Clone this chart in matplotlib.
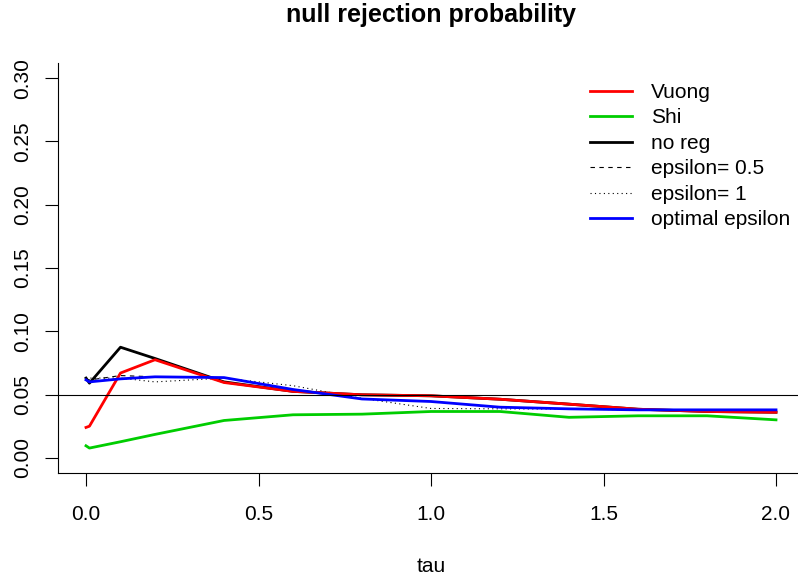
import matplotlib
matplotlib.use("Agg")
import matplotlib.pyplot as plt

plt.rcParams['font.family'] = ['Liberation Sans', 'DejaVu Sans']

tau = [0.0, 0.01, 0.1, 0.2, 0.4, 0.6, 0.8, 1.0, 1.2, 1.4, 1.6, 1.8, 2.0]
vuong = [0.024, 0.025, 0.067, 0.0775, 0.0595, 0.0525, 0.0498, 0.049, 0.0463, 0.0424, 0.0384, 0.0366, 0.036]
shi = [0.0095, 0.0077, 0.0127, 0.0185, 0.0295, 0.034, 0.0345, 0.0366, 0.0366, 0.032, 0.0332, 0.0332, 0.030]
noreg = [0.063, 0.059, 0.0874, 0.0785, 0.0600, 0.0525, 0.0498, 0.049, 0.0463, 0.0424, 0.0384, 0.0366, 0.036]
eps05 = [0.0625, 0.0615, 0.065, 0.064, 0.0634, 0.054, 0.0465, 0.0445, 0.040, 0.0387, 0.0379, 0.0379, 0.0379]
eps1 = [0.0634, 0.063, 0.063, 0.060, 0.063, 0.057, 0.047, 0.039, 0.0387, 0.0385, 0.0379, 0.0379, 0.0379]
optimal = [0.0616, 0.060, 0.0624, 0.064, 0.0634, 0.054, 0.0465, 0.0445, 0.040, 0.0387, 0.0379, 0.0379, 0.0379]

xticks = [0.0, 0.5, 1.0, 1.5, 2.0]
xticklabels = ["0.0", "0.5", "1.0", "1.5", "2.0"]
yticks = [0.00, 0.05, 0.10, 0.15, 0.20, 0.25, 0.30]
yticklabels = ["0.00", "0.05", "0.10", "0.15", "0.20", "0.25", "0.30"]
alpha_level = 0.05

FS = 15
W, H = 798, 579
fig = plt.figure(figsize=(W / 100, H / 100), dpi=100)
ax = fig.add_axes([58.4 / W, (H - 473) / H, 745.2 / W, 410 / H])
ax.set_xlim(-0.08, 2.08)
ax.set_ylim(-0.012, 0.312)

l_noreg, = ax.plot(tau, noreg, color='black', lw=2, label='no reg')
l_e05, = ax.plot(tau, eps05, color='black', lw=0.8, ls=(0, (4, 4)), label='epsilon= 0.5')
l_e1, = ax.plot(tau, eps1, color='black', lw=0.8, ls=(0, (1, 3)), label='epsilon= 1')
l_v, = ax.plot(tau, vuong, color='#ff0000', lw=2, label='Vuong')
l_s, = ax.plot(tau, shi, color='#00cd00', lw=2, label='Shi')
l_o, = ax.plot(tau, optimal, color='#0000ff', lw=2, label='optimal epsilon')
ax.axhline(alpha_level, color='black', lw=0.8)

for s in ['top', 'right']:
    ax.spines[s].set_visible(False)
for s in ['left', 'bottom']:
    ax.spines[s].set_linewidth(0.8)

ax.set_xticks(xticks)
ax.set_xticklabels(xticklabels)
ax.set_yticks(yticks)
ax.set_yticklabels(yticklabels, rotation=90, va='center')
ax.tick_params(axis='both', length=9.4, width=0.8, labelsize=FS)
ax.tick_params(axis='x', pad=13.5)
ax.tick_params(axis='y', pad=9.5)

fig.text(431 / W, 1 - 15 / H, 'null rejection probability', ha='center', va='center',
         fontsize=18, fontweight='bold')
fig.text(431 / W, 1 - 566 / H, 'tau', ha='center', va='center', fontsize=FS)

handles = [l_v, l_s, l_noreg, l_e05, l_e1, l_o]
ax.legend(handles=handles, labels=[h.get_label() for h in handles],
          loc='upper left', bbox_to_anchor=(590 / W, 1 - 83 / H),
          bbox_transform=fig.transFigure, frameon=False, fontsize=FS,
          borderpad=0, borderaxespad=0, handlelength=2.02, handletextpad=0.91,
          labelspacing=0.31)

fig.savefig('out.png', dpi=100)
